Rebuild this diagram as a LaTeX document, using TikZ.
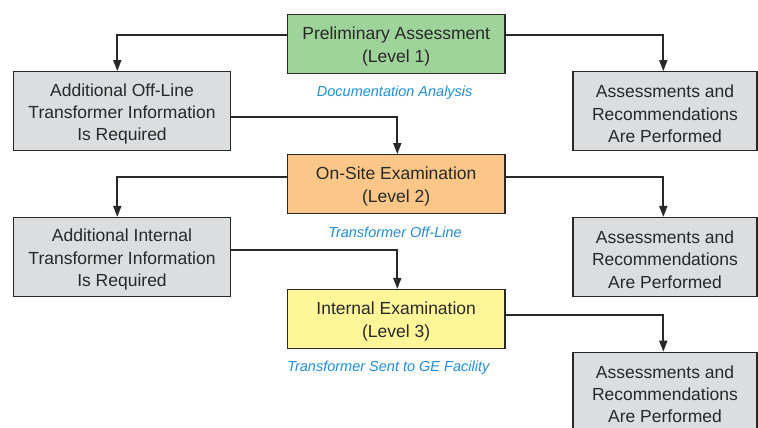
\documentclass[tikz,border=0pt]{standalone}
\usepackage{fontspec}
\setmainfont{Liberation Sans}
\usetikzlibrary{arrows.meta}
\definecolor{boxgreen}{RGB}{158,211,154}
\definecolor{boxorange}{RGB}{251,199,137}
\definecolor{boxyellow}{RGB}{255,246,153}
\definecolor{boxgray}{RGB}{220,221,222}
\definecolor{labelblue}{RGB}{33,141,214}
\definecolor{ink}{RGB}{40,40,40}
\newcommand\topstrut{\rule{0pt}{17.9pt}}
\tikzset{
  box/.style={draw=ink, line width=1.2pt, rectangle, align=center, text=ink,
    font=\fontsize{17.5}{22.3}\selectfont, inner sep=0pt},
  level/.style={box, minimum width=217.7pt, minimum height=58.7pt},
  side/.style={box, fill=boxgray, minimum width=217.4pt, minimum height=79pt},
  result/.style={box, fill=boxgray, minimum width=184pt, minimum height=79pt},
  note/.style={text=labelblue, font=\fontsize{14.5}{17}\selectfont\itshape, inner sep=0pt},
  conn/.style={draw=ink, line width=1.7pt, -{Triangle[length=11pt,width=8pt]}}
}
\begin{document}
\begin{tikzpicture}[x=1pt,y=-1pt]
\useasboundingbox (0,0) rectangle (758,428);
\clip (0,0) rectangle (758,428);
\node[level, fill=boxgreen] (p1) at (396.2,44) {\topstrut Preliminary Assessment\\(Level 1)};
\node[side] (a1) at (122,111.2) {\topstrut Additional Off-Line\\Transformer Information\\Is Required};
\node[result] (r1) at (665,111.2) {\topstrut Assessments and\\Recommendations\\Are Performed};
\node[note] (n1) at (394.7,93) {Documentation Analysis};
\node[level, fill=boxorange] (p2) at (396.2,184) {\topstrut On-Site Examination\\(Level 2)};
\node[side] (a2) at (122,257) {\topstrut Additional Internal\\Transformer Information\\Is Required};
\node[result] (r2) at (665,257) {\topstrut Assessments and\\Recommendations\\Are Performed};
\node[note] (n2) at (395,232.7) {Transformer Off-Line};
\node[level, fill=boxyellow] (p3) at (396.2,318.8) {\topstrut Internal Examination\\(Level 3)};
\node[note] (n3) at (388.3,367.3) {Transformer Sent to GE Facility};
\node[result] (r3) at (665,391.8) {\topstrut Assessments and\\Recommendations\\Are Performed};

\draw[conn] ([yshift=9.3pt]p1.west) -| ([xshift=-4.7pt]a1.north);
\draw[conn] ([yshift=9.3pt]p1.east) -| ([xshift=-1.7pt]r1.north);
\draw[conn] ([yshift=-5.8pt]a1.east) -| ([xshift=1.1pt]p2.north);
\draw[conn] ([yshift=7.3pt]p2.west) -| ([xshift=-4.7pt]a2.north);
\draw[conn] ([yshift=7.3pt]p2.east) -| ([xshift=-1.7pt]r2.north);
\draw[conn] ([yshift=7pt]a2.east) -| ([xshift=1.1pt]p3.north);
\draw[conn] ([yshift=3.5pt]p3.east) -| ([xshift=-1.7pt]r3.north);
\end{tikzpicture}
\end{document}
